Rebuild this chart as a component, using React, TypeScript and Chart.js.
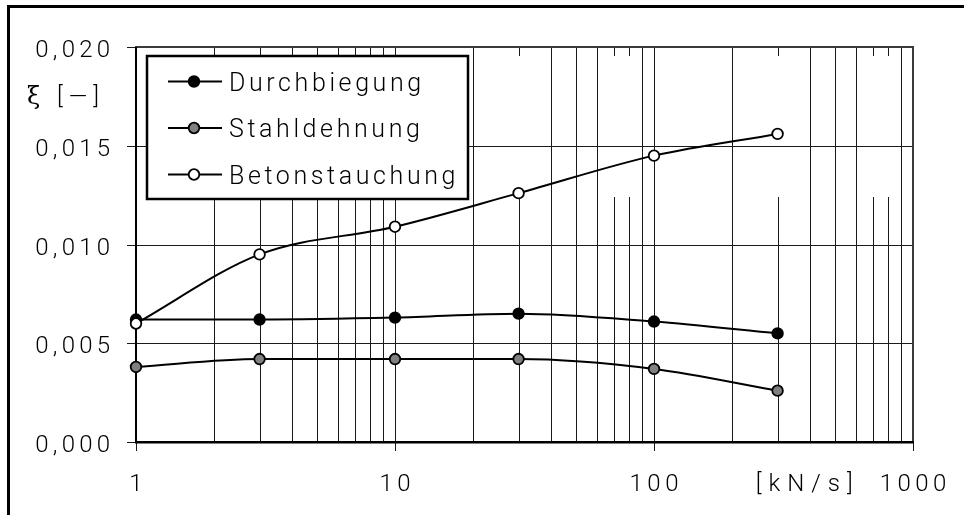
import React, { useEffect, useRef } from 'react';
import { Chart, registerables } from 'chart.js';

Chart.register(...registerables);

// Loading rate [kN/s] and measured strains
const rates = [1, 3, 10, 30, 100, 300];
const durchbiegung = [0.0062, 0.0062, 0.0063, 0.0065, 0.0061, 0.0055];
const stahldehnung = [0.0038, 0.0042, 0.0042, 0.0042, 0.0037, 0.0026];
const betonstauchung = [0.006, 0.0095, 0.0109, 0.0126, 0.0145, 0.0156];

const seriesNames = ['Durchbiegung', 'Stahldehnung', 'Betonstauchung'];
const seriesValues = [durchbiegung, stahldehnung, betonstauchung];
const markerFills = ['#000000', '#808080', '#ffffff'];
const drawOrder = [2, 1, 0];

const yTickValues = [0, 0.005, 0.01, 0.015, 0.02];
const yTickLabels = ['0,000', '0,005', '0,010', '0,015', '0,020'];
const xTickValues = [1, 10, 100, 1000];
const xTickLabels = ['1', '10', '100', '1000'];
const xUnitLabel = '[kN/s]';
const xUnitAt = 380;
const yAxisSymbol = 'ξ';
const yAxisUnit = '[—]';

// minor log grid lines that are interrupted in the upper part of the plot
const interruptedMultiples = [3, 7, 8];
const interruptUntil = 0.0124;

const SANS = '"Roboto", "Liberation Sans", sans-serif';
const SERIF = '"DejaVu Serif", "Liberation Serif", serif';

function spacedText(
  ctx: CanvasRenderingContext2D,
  text: string,
  x: number,
  y: number,
  align: 'left' | 'center' | 'right',
  spacing: number
) {
  (ctx as any).letterSpacing = spacing + 'px';
  const w = ctx.measureText(text).width - spacing;
  let sx = x;
  if (align === 'center') sx = x - w / 2;
  else if (align === 'right') sx = x - w;
  ctx.textAlign = 'left';
  ctx.fillText(text, sx, y);
  (ctx as any).letterSpacing = '0px';
}

const pagePlugin = {
  id: 'pageFrame',
  beforeDraw(chart: any) {
    const { ctx, width, height } = chart;
    ctx.save();
    ctx.fillStyle = '#ffffff';
    ctx.fillRect(0, 0, width, height);
    ctx.fillStyle = '#000000';
    ctx.fillRect(7, 5, 3, height - 5);
    ctx.fillRect(7, 5, width - 7, 3);
    ctx.restore();
  },
};

const gridPlugin = {
  id: 'logGrid',
  beforeDatasetsDraw(chart: any) {
    const { ctx, chartArea: a, scales } = chart;
    const x = scales.x;
    const y = scales.y;
    ctx.save();
    ctx.strokeStyle = '#1a1a1a';
    ctx.lineWidth = 1;
    const gapEnd = Math.round(y.getPixelForValue(interruptUntil));
    for (const decade of [1, 10, 100]) {
      for (let m = 1; m <= 9; m++) {
        const v = decade * m;
        if (v <= 1 || v >= 1000) continue;
        const px = Math.round(x.getPixelForValue(v)) + 0.5;
        ctx.beginPath();
        if (interruptedMultiples.includes(m)) {
          ctx.moveTo(px, a.top);
          ctx.lineTo(px, a.top + 9);
          ctx.moveTo(px, gapEnd);
          ctx.lineTo(px, a.bottom);
        } else {
          ctx.moveTo(px, a.top);
          ctx.lineTo(px, a.bottom);
        }
        ctx.stroke();
      }
    }
    for (const v of yTickValues) {
      const py = Math.round(y.getPixelForValue(v)) + 0.5;
      ctx.beginPath();
      ctx.moveTo(a.left - 9, py);
      ctx.lineTo(v === 0 ? a.left : a.right, py);
      ctx.stroke();
    }
    for (const v of xTickValues) {
      const px = Math.round(x.getPixelForValue(v)) + 0.5;
      ctx.beginPath();
      ctx.moveTo(px, a.bottom);
      ctx.lineTo(px, a.bottom + 9);
      ctx.stroke();
    }
    // plot frame
    ctx.strokeStyle = '#3a3a3a';
    ctx.lineWidth = 2;
    ctx.strokeRect(a.left, a.top, a.right - a.left, a.bottom - a.top);
    // axes
    ctx.fillStyle = '#000000';
    ctx.fillRect(a.left - 1, a.top, 2, a.bottom - a.top + 1);
    ctx.fillRect(a.left - 1, a.bottom - 1, a.right - a.left + 2, 2.5);
    ctx.restore();
  },
  afterDatasetsDraw(chart: any) {
    const { ctx, chartArea: a, scales } = chart;
    const x = scales.x;
    const y = scales.y;
    ctx.save();
    ctx.fillStyle = '#000000';
    ctx.textBaseline = 'alphabetic';

    // y tick labels
    ctx.font = `300 24px ${SANS}`;
    yTickValues.forEach((v, i) => {
      const py = y.getPixelForValue(v);
      spacedText(ctx, yTickLabels[i], a.left - 26, py + 10, 'right', 4.2);
    });
    // x tick labels
    xTickValues.forEach((v, i) => {
      const px = x.getPixelForValue(v);
      spacedText(ctx, xTickLabels[i], px, a.bottom + 49, 'center', 4.5);
    });
    // axis titles
    spacedText(ctx, xUnitLabel, x.getPixelForValue(xUnitAt), a.bottom + 49, 'center', 7);
    ctx.font = `24px ${SERIF}`;
    ctx.fillText(yAxisSymbol, 27, a.top + 57);
    ctx.font = `300 24px ${SANS}`;
    spacedText(ctx, yAxisUnit, 57, a.top + 57, 'left', 6);

    // legend
    const lx = a.left + 11;
    const ly = a.top + 9;
    const lw = 321;
    const lh = 143;
    ctx.fillStyle = '#ffffff';
    ctx.fillRect(lx, ly, lw, lh);
    ctx.strokeStyle = '#000000';
    ctx.lineWidth = 2.5;
    ctx.strokeRect(lx, ly, lw, lh);
    seriesNames.forEach((name, i) => {
      const cy = ly + 25.5 + i * 46.5;
      ctx.strokeStyle = '#000000';
      ctx.lineWidth = 2;
      ctx.beginPath();
      ctx.moveTo(lx + 21, cy);
      ctx.lineTo(lx + 75, cy);
      ctx.stroke();
      ctx.beginPath();
      ctx.arc(lx + 47, cy, 5.3, 0, Math.PI * 2);
      ctx.fillStyle = markerFills[i];
      ctx.fill();
      ctx.lineWidth = 1.8;
      ctx.stroke();
      ctx.fillStyle = '#000000';
      ctx.font = `300 25px ${SANS}`;
      spacedText(ctx, name, lx + 82, cy + 9, 'left', 3.6);
    });
    ctx.restore();
  },
};

export default function App() {
  const canvasRef = useRef<HTMLCanvasElement | null>(null);

  useEffect(() => {
    const canvas = canvasRef.current;
    if (!canvas) return;
    const chart = new Chart(canvas, {
      type: 'line',
      data: {
        datasets: seriesNames.map((name, i) => ({
          label: name,
          data: rates.map((r, j) => ({ x: r, y: seriesValues[i][j] })),
          borderColor: '#000000',
          borderWidth: 2,
          pointRadius: 5.3,
          pointBorderWidth: 1.8,
          pointBackgroundColor: markerFills[i],
          pointBorderColor: '#000000',
          cubicInterpolationMode: 'monotone' as const,
          clip: false as any,
          order: drawOrder[i],
        })),
      },
      options: {
        animation: false,
        responsive: false,
        events: [],
        layout: { padding: { left: 136, top: 47, right: 51, bottom: 73 } },
        plugins: {
          legend: { display: false },
          tooltip: { enabled: false },
        },
        scales: {
          x: {
            type: 'logarithmic',
            display: false,
            min: 1,
            max: 1000,
          },
          y: {
            type: 'linear',
            display: false,
            min: 0,
            max: 0.02,
            ticks: { stepSize: 0.005 },
          },
        },
      },
      plugins: [pagePlugin, gridPlugin],
    });
    return () => chart.destroy();
  }, []);

  return (
    <div style={{ position: 'absolute', left: 0, top: 0, width: 964, height: 515, background: '#fff' }}>
      <canvas ref={canvasRef} width={964} height={515} style={{ display: 'block' }} />
    </div>
  );
}
